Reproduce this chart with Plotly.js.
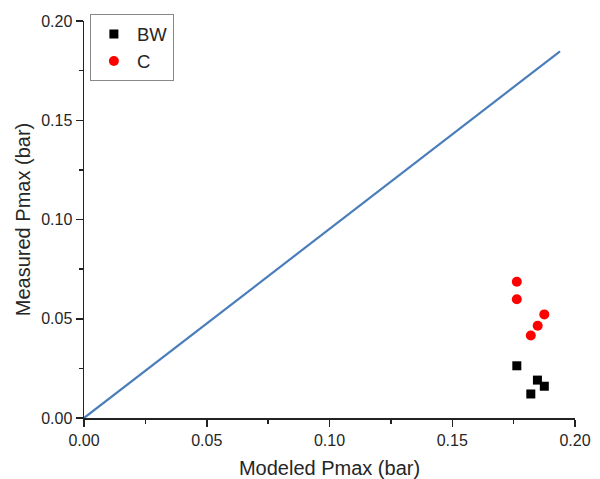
<!DOCTYPE html>
<html>
<head>
<meta charset="utf-8">
<script src="https://cdn.plot.ly/plotly-3.0.1.min.js"></script>
<style>html,body{margin:0;padding:0;background:#fff;}#chart{width:600px;height:479px;}</style>
</head>
<body>
<div id="chart"></div>
<script>
// Data
const bwModeled = [0.1763, 0.1847, 0.1875, 0.1820];
const bwMeasured = [0.0263, 0.0191, 0.0160, 0.0121];
const cModeled = [0.1763, 0.1763, 0.1875, 0.1848, 0.1820];
const cMeasured = [0.0686, 0.0598, 0.0522, 0.0465, 0.0416];
const refLineX = [0, 0.1939];
const refLineY = [0, 0.1847];
const tickVals = [0, 0.05, 0.10, 0.15, 0.20];
const tickLabels = ["0.00", "0.05", "0.10", "0.15", "0.20"];

const fontFam = 'Liberation Sans, Arial, sans-serif';
const textColor = '#262626';

const traces = [
  {x: refLineX, y: refLineY, mode: 'lines', line: {color: '#4A7EBB', width: 2.2}, showlegend: false, hoverinfo: 'skip'},
  {x: bwModeled, y: bwMeasured, mode: 'markers', name: 'BW', marker: {symbol: 'square', size: 9, color: '#000000'}},
  {x: cModeled, y: cMeasured, mode: 'markers', name: 'C', marker: {symbol: 'circle', size: 10, color: '#FF0000'}}
];

const axisCommon = {
  range: [0, 0.2],
  showline: true, linecolor: '#222', linewidth: 1.5,
  ticks: 'outside', ticklen: 7, tickwidth: 1.5, tickcolor: '#222',
  tickvals: tickVals, ticktext: tickLabels,
  tickfont: {family: fontFam, size: 16, color: textColor},
  showgrid: false, zeroline: false,
  minor: {ticks: 'outside', ticklen: 4, tickwidth: 1.5, tickcolor: '#222', dtick: 0.025, tick0: 0, showgrid: false}
};

const layout = {
  width: 600, height: 479,
  margin: {l: 84, r: 25, t: 21, b: 61},
  paper_bgcolor: '#fff', plot_bgcolor: '#fff',
  font: {family: fontFam, color: textColor},
  xaxis: Object.assign({}, axisCommon, {title: {text: 'Modeled Pmax (bar)', font: {family: fontFam, size: 20, color: textColor}, standoff: 14}}),
  yaxis: Object.assign({}, axisCommon, {title: {text: 'Measured Pmax (bar)', font: {family: fontFam, size: 20, color: textColor}, standoff: 5}}),
  legend: {
    x: 0.012, y: 0.932, xanchor: 'left', yanchor: 'middle',
    bgcolor: '#fff', bordercolor: '#888', borderwidth: 1,
    font: {family: fontFam, size: 18.5, color: textColor},
    itemwidth: 36, tracegroupgap: 0
  },
  showlegend: true
};

Plotly.newPlot('chart', traces, layout, {displayModeBar: false, staticPlot: true});
</script>
</body>
</html>
